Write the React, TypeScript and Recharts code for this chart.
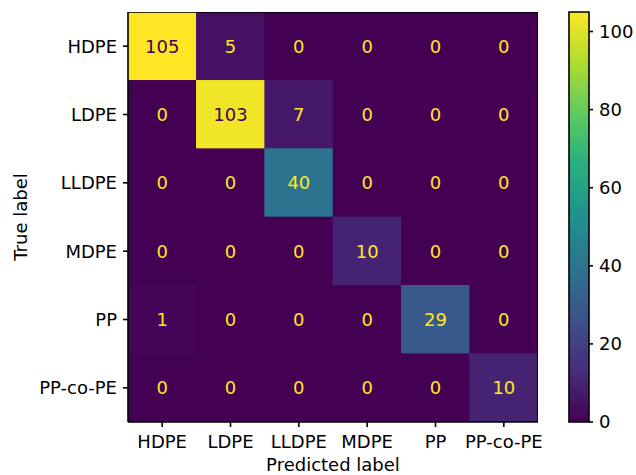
import React from 'react';
import { ScatterChart, Scatter, XAxis, YAxis, BarChart, Bar } from 'recharts';

const CLASSES = ['HDPE', 'LDPE', 'LLDPE', 'MDPE', 'PP', 'PP-co-PE'];
const ROW_HDPE = [105, 5, 0, 0, 0, 0];
const ROW_LDPE = [0, 103, 7, 0, 0, 0];
const ROW_LLDPE = [0, 0, 40, 0, 0, 0];
const ROW_MDPE = [0, 0, 0, 10, 0, 0];
const ROW_PP = [1, 0, 0, 0, 29, 0];
const ROW_PPCOPE = [0, 0, 0, 0, 0, 10];
const MATRIX = [ROW_HDPE, ROW_LDPE, ROW_LLDPE, ROW_MDPE, ROW_PP, ROW_PPCOPE];
const COLORBAR_TICKS = [0, 20, 40, 60, 80, 100];
const VMAX = 105;

const VIRIDIS = ['#440154', '#472d7b', '#3b528b', '#2c728e', '#21918c', '#28ae80', '#5ec962', '#addc30', '#fde725'];

function hexToRgb(h: string) {
  return [parseInt(h.slice(1, 3), 16), parseInt(h.slice(3, 5), 16), parseInt(h.slice(5, 7), 16)];
}
function viridis(t: number) {
  const tt = Math.max(0, Math.min(1, t));
  const pos = tt * (VIRIDIS.length - 1);
  const i = Math.min(VIRIDIS.length - 2, Math.floor(pos));
  const f = pos - i;
  const a = hexToRgb(VIRIDIS[i]);
  const b = hexToRgb(VIRIDIS[i + 1]);
  const c = a.map((v, k) => Math.round(v + (b[k] - v) * f));
  return `rgb(${c[0]},${c[1]},${c[2]})`;
}

const W = 636;
const H = 475;
const M_TOP = 12;
const M_RIGHT = 98;
const Y_AXIS_W = 128;
const X_AXIS_H = 53;
const PLOT_W = W - M_RIGHT - Y_AXIS_W;
const PLOT_H = H - M_TOP - X_AXIS_H;
const CELL_W = PLOT_W / CLASSES.length;
const CELL_H = PLOT_H / CLASSES.length;
const FONT = 'DejaVu Sans, sans-serif';
const FS = 18;

const cells = MATRIX.flatMap((row, r) => row.map((v, c) => ({ x: c, y: r, v })));
const frameCenter = [{ x: (CLASSES.length - 1) / 2, y: (CLASSES.length - 1) / 2 }];

const CellShape = (props: any) => {
  const { cx, cy, payload } = props;
  const v = payload.v;
  const fill = viridis(v / VMAX);
  const txt = v > VMAX / 2 ? VIRIDIS[0] : VIRIDIS[VIRIDIS.length - 1];
  return (
    <g>
      <rect x={cx - CELL_W / 2 - 0.3} y={cy - CELL_H / 2 - 0.3} width={CELL_W + 0.6} height={CELL_H + 0.6} fill={fill} />
      <text x={cx} y={cy} textAnchor="middle" dominantBaseline="central" fontSize={FS} fontFamily={FONT} fill={txt}>
        {v}
      </text>
    </g>
  );
};

const FrameShape = (props: any) => {
  const { cx, cy } = props;
  return <rect x={cx - PLOT_W / 2} y={cy - PLOT_H / 2} width={PLOT_W} height={PLOT_H} fill="none" stroke="#000" strokeWidth={1.6} />;
};

const IDX = [0, 1, 2, 3, 4, 5];
const tickStyle = { fontSize: FS, fill: '#000', fontFamily: FONT };
const lineStyle = { stroke: '#000', strokeWidth: 1.6 };

export default function App() {
  return (
    <div style={{ position: 'absolute', left: 0, top: 0, width: W, height: H, background: '#fff', fontFamily: FONT }}>
      <ScatterChart width={W} height={H} margin={{ top: M_TOP, right: M_RIGHT, bottom: 0, left: 0 }}>
        <XAxis
          type="number"
          dataKey="x"
          domain={[-0.5, 5.5]}
          ticks={IDX}
          allowDataOverflow
          tickFormatter={(i: number) => CLASSES[i]}
          height={X_AXIS_H}
          interval={0}
          tickSize={5}
          tickMargin={8}
          tick={tickStyle}
          axisLine={lineStyle}
          tickLine={lineStyle}
          label={{ value: 'Predicted label', position: 'insideBottom', offset: 4, fontSize: FS, fill: '#000', fontFamily: FONT }}
        />
        <XAxis
          xAxisId="top"
          orientation="top"
          type="number"
          dataKey="x"
          domain={[-0.5, 5.5]}
          ticks={IDX}
          allowDataOverflow
          height={0}
          interval={0}
          tickSize={3}
          tick={false}
          axisLine={lineStyle}
          tickLine={lineStyle}
        />
        <YAxis
          type="number"
          dataKey="y"
          domain={[-0.5, 5.5]}
          reversed
          ticks={IDX}
          allowDataOverflow
          tickFormatter={(i: number) => CLASSES[i]}
          width={Y_AXIS_W}
          interval={0}
          tickSize={5}
          tickMargin={6}
          tick={tickStyle}
          axisLine={lineStyle}
          tickLine={lineStyle}
          label={{ value: 'True label', angle: -90, position: 'insideLeft', offset: 21, fontSize: FS, fill: '#000', fontFamily: FONT, style: { textAnchor: 'middle' } }}
        />
        <YAxis
          yAxisId="right"
          orientation="right"
          type="number"
          dataKey="y"
          domain={[-0.5, 5.5]}
          reversed
          ticks={IDX}
          allowDataOverflow
          width={0}
          interval={0}
          tickSize={3}
          tick={false}
          axisLine={lineStyle}
          tickLine={lineStyle}
        />
        <Scatter data={cells} dataKey="v" shape={CellShape} isAnimationActive={false} />
        <Scatter data={frameCenter} shape={FrameShape} isAnimationActive={false} />
      </ScatterChart>
      <div style={{ position: 'absolute', left: 560, top: 0 }}>
        <BarChart width={76} height={H} data={[{ name: 'cb', v: VMAX }]} margin={{ top: M_TOP, right: 0, bottom: X_AXIS_H, left: 9 }} barCategoryGap={0}>
          <defs>
            <linearGradient id="viridisGrad" x1="0" y1="1" x2="0" y2="0">
              {VIRIDIS.map((c, i) => (
                <stop key={i} offset={`${(i / (VIRIDIS.length - 1)) * 100}%`} stopColor={c} />
              ))}
            </linearGradient>
          </defs>
          <XAxis dataKey="name" hide />
          <YAxis
            orientation="right"
            type="number"
            domain={[0, VMAX]}
            ticks={COLORBAR_TICKS}
            width={47}
            interval={0}
            tickSize={4}
            tickMargin={6}
            tick={tickStyle}
            axisLine={false}
            tickLine={lineStyle}
          />
          <Bar dataKey="v" fill="url(#viridisGrad)" stroke="#000" strokeWidth={1.6} isAnimationActive={false} />
        </BarChart>
      </div>
    </div>
  );
}
